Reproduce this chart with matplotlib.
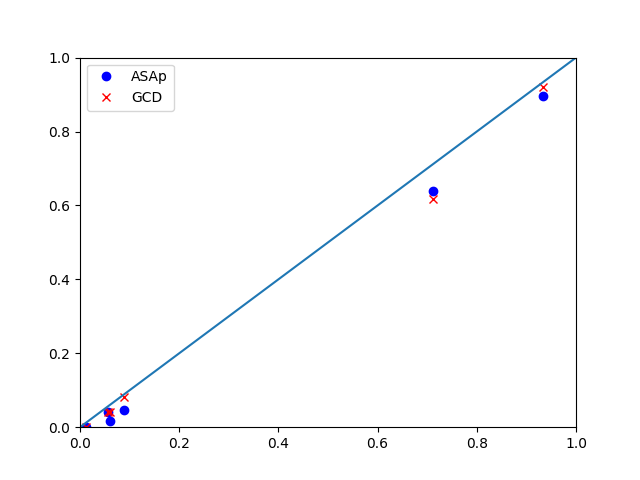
import matplotlib
matplotlib.use("Agg")
import matplotlib.pyplot as plt

# values
x_vals = [0.013, 0.056, 0.061, 0.089, 0.711, 0.933]
asap_y = [0.000, 0.040, 0.017, 0.046, 0.640, 0.897]
gcd_y = [0.001, 0.040, 0.042, 0.082, 0.617, 0.921]
diag = [0, 1]

fig, ax = plt.subplots(figsize=(6.4, 4.8), dpi=100)
ax.plot(x_vals, asap_y, "bo", label="ASAp")
ax.plot(x_vals, gcd_y, "rx", label="GCD")
ax.plot(diag, diag)
ax.set_xlim(0, 1)
ax.set_ylim(0, 1)
ax.legend(loc="upper left")
fig.savefig("out.png")
